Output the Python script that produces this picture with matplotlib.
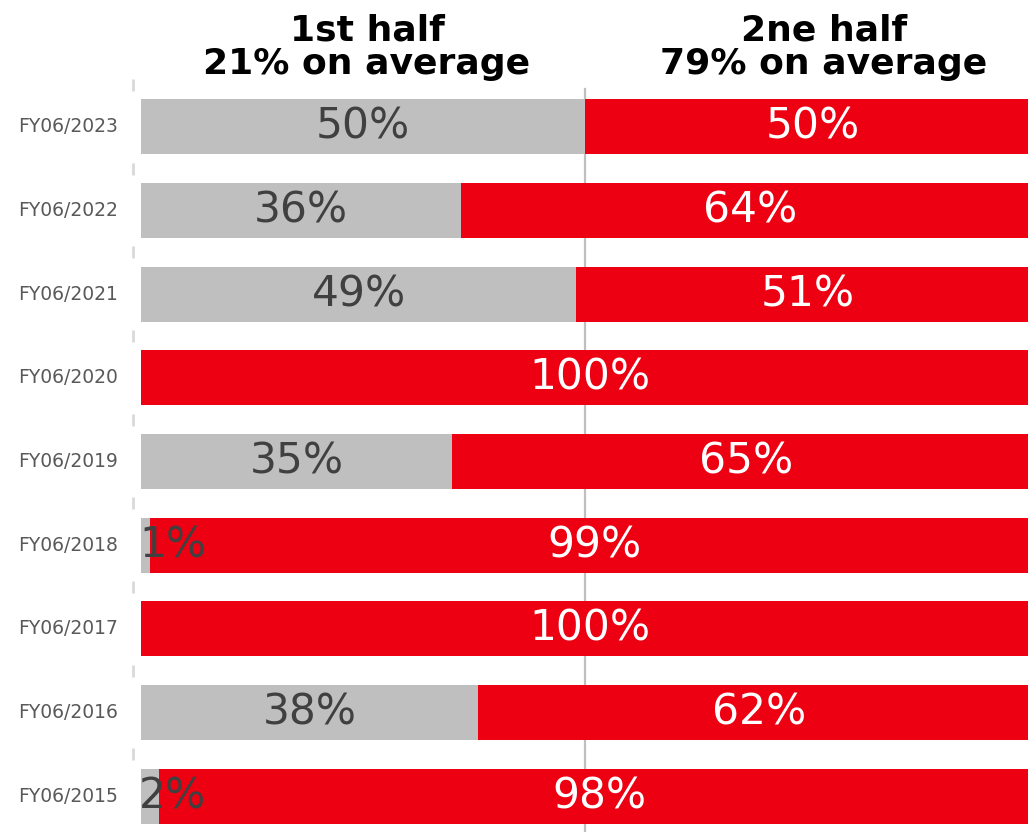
import matplotlib
import matplotlib.pyplot as plt
import matplotlib.transforms as mtransforms

matplotlib.use('Agg')

years = ['FY06/2023', 'FY06/2022', 'FY06/2021', 'FY06/2020', 'FY06/2019',
         'FY06/2018', 'FY06/2017', 'FY06/2016', 'FY06/2015']
first_half = [50, 36, 49, 0, 35, 1, 0, 38, 2]
second_half = [50, 64, 51, 100, 65, 99, 100, 62, 98]
header_left = '1st half\n21% on average'
header_right = '2ne half\n79% on average'

GRAY = '#bfbfbf'
RED = '#ec0012'


def main():
    fig = plt.figure(figsize=(10.28, 8.32), dpi=100)
    ax = fig.add_axes([0.1294, -0.0072, 0.8716, 0.905])

    pos = list(range(len(years)))
    ax.axvline(50, ymax=0.995, color=GRAY, lw=1.6, zorder=0)
    ax.barh(pos, first_half, height=0.66, color=GRAY, zorder=2)
    ax.barh(pos, second_half, left=first_half, height=0.66, color=RED, zorder=2)

    for y, a, b in zip(pos, first_half, second_half):
        if a > 0:
            if a < 5:
                # too narrow to center, so start at the left edge
                ax.text(-0.2, y, f'{a}%', ha='left', va='center', fontsize=30.5,
                        color='#404040', zorder=3)
            else:
                ax.text(a / 2, y, f'{a}%', ha='center', va='center', fontsize=30.5,
                        color='#404040', zorder=3)
        ax.text(a + b / 2 + 0.6, y, f'{b}%', ha='center', va='center', fontsize=30.5,
                color='white', zorder=3)

    ax.set_xlim(-0.9, 100)
    ax.set_ylim(len(years) - 0.5, -0.5)
    ax.set_yticks(pos)
    ax.set_yticklabels(years, fontsize=13.5, color='#595959', va='center')
    ax.tick_params(axis='y', length=0, pad=11)
    ax.set_xticks([])
    for s in ax.spines.values():
        s.set_visible(False)

    # short gray marks on the left edge between the categories
    trans = mtransforms.blended_transform_factory(ax.transAxes, ax.transData)
    bounds = [p - 0.5 for p in pos] + [len(years) - 0.5]
    ax.vlines([0] * len(bounds), [b - 0.07 for b in bounds], [b + 0.07 for b in bounds],
              colors='#d9d9d9', lw=2, transform=trans, clip_on=False)

    fig.text(367 / 1028, 0.943, header_left, ha='center', va='center', fontsize=26,
             fontweight='bold', linespacing=1.0)
    fig.text(824 / 1028, 0.943, header_right, ha='center', va='center', fontsize=26,
             fontweight='bold', linespacing=1.0)

    fig.savefig('out.png', dpi=100)


if __name__ == '__main__':
    main()
